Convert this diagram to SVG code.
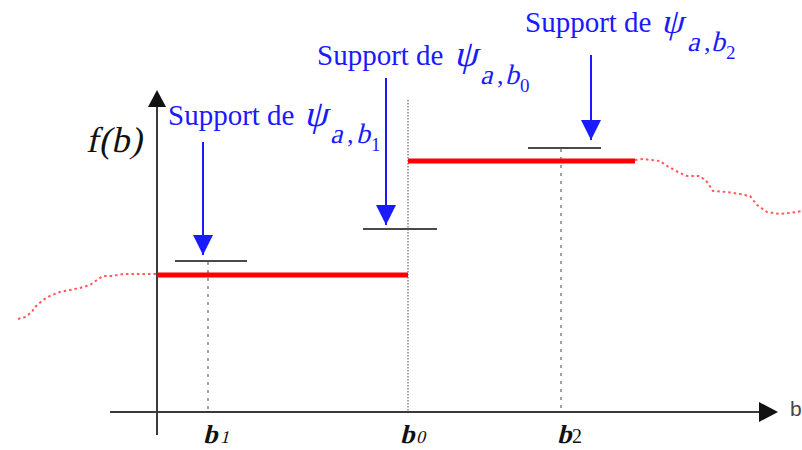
<svg xmlns="http://www.w3.org/2000/svg" width="802" height="450" viewBox="0 0 802 450">
<defs>
<style>
.axis{stroke:#3a3a3a;stroke-width:2;fill:none}
.guide{stroke:#666;stroke-width:1.2;fill:none}
.bar{stroke:#4a4a4a;stroke-width:2.2;fill:none}
.step{stroke:#ff0000;stroke-width:5;fill:none}
.curve{stroke:#ff3030;stroke-width:2;stroke-dasharray:2.5,3;fill:none;opacity:0.8}
.blue{stroke:#1a1aff;stroke-width:2;fill:none}
.lbl{font-family:"Liberation Serif",serif;fill:#1a1aff}
.math{font-family:"Liberation Serif",serif;fill:#111}
</style>
<marker id="ah" viewBox="0 0 10 10" refX="10" refY="5" markerWidth="20" markerHeight="20" markerUnits="userSpaceOnUse" orient="auto">
<path d="M0,0 L10,5 L0,10 Z" fill="#1a1aff"/>
</marker>
</defs>

<g id="axes">
<line class="axis" x1="157" y1="435" x2="157" y2="106"/>
<path d="M148,107 L157,90 L166,107 Z" fill="#111"/>
<line class="axis" x1="110" y1="412" x2="760" y2="412"/>
<path d="M759,402 L778,412 L759,422 Z" fill="#111"/>
<text x="790" y="416" font-family="Liberation Sans, sans-serif" font-size="21" fill="#444">b</text>
</g>

<g id="guides">
<line class="guide" x1="208" y1="262" x2="208" y2="411" stroke-dasharray="3,5"/>
<line class="guide" x1="408" y1="100" x2="408" y2="411" stroke-dasharray="1.5,1.5"/>
<line class="guide" x1="561" y1="149" x2="561" y2="411" stroke-dasharray="3,5"/>
</g>

<g id="signal">
<polyline class="curve" points="18,319 25,317 32,312 34,308 43,300 50,296 60,292 70,290 80,288 90,285 97,280 103,276 113,276 123,274 143,274 157,274"/>
<polyline class="curve" points="635,160 643,159 660,161 667,166 680,173 687,176 700,176 707,182 713,191 727,192 740,194 750,196 757,205 767,212 780,214 790,213 802,211"/>
<line class="step" x1="157" y1="275" x2="408" y2="275"/>
<line class="step" x1="408" y1="161" x2="635" y2="161"/>
</g>

<g id="supports">
<line class="bar" x1="175" y1="261" x2="247" y2="261"/>
<line class="bar" x1="363" y1="229" x2="437" y2="229"/>
<line class="bar" x1="528" y1="148" x2="601" y2="148"/>
</g>

<g id="connectors">
<line class="blue" x1="203" y1="142" x2="203" y2="255" marker-end="url(#ah)"/>
<line class="blue" x1="386" y1="78" x2="386" y2="225" marker-end="url(#ah)"/>
<line class="blue" x1="591" y1="55" x2="591" y2="140" marker-end="url(#ah)"/>
</g>

<g id="label-b1">
<text class="lbl" x="168" y="125" font-size="29">Support de</text>
<text class="lbl" transform="translate(304,126) skewX(-14)" font-size="37">ψ</text>
<text class="lbl" transform="translate(330,143) skewX(-14)" font-size="28">a</text>
<text class="lbl" x="347" y="143" font-size="26">,</text>
<text class="lbl" transform="translate(356,143) skewX(-14)" font-size="28">b</text>
<text class="lbl" x="371" y="151" font-size="19">1</text>
</g>

<g id="label-b0">
<text class="lbl" x="317" y="65" font-size="29">Support de</text>
<text class="lbl" transform="translate(454,66) skewX(-14)" font-size="37">ψ</text>
<text class="lbl" transform="translate(480,84) skewX(-14)" font-size="28">a</text>
<text class="lbl" x="497" y="84" font-size="26">,</text>
<text class="lbl" transform="translate(505,84) skewX(-14)" font-size="28">b</text>
<text class="lbl" x="520" y="92" font-size="19">0</text>
</g>

<g id="label-b2">
<text class="lbl" x="525" y="32" font-size="29">Support de</text>
<text class="lbl" transform="translate(661,33) skewX(-14)" font-size="35">ψ</text>
<text class="lbl" transform="translate(687,51) skewX(-14)" font-size="28">a</text>
<text class="lbl" x="704" y="51" font-size="26">,</text>
<text class="lbl" transform="translate(711,51) skewX(-14)" font-size="28">b</text>
<text class="lbl" x="726" y="59" font-size="19">2</text>
</g>

<g id="label-fb">
<text class="math" transform="translate(86,152) skewX(-12)" font-size="36" textLength="56" lengthAdjust="spacing">f(b)</text>
</g>

<g id="ticks">
<text class="math" transform="translate(203,443) skewX(-14)" font-size="26" font-weight="bold">b</text>
<text class="math" transform="translate(220,443) skewX(-14)" font-size="18">1</text>
<text class="math" transform="translate(400,443) skewX(-14)" font-size="26" font-weight="bold">b</text>
<text class="math" transform="translate(416,443) skewX(-14)" font-size="18">0</text>
<text class="math" transform="translate(557,443) skewX(-14)" font-size="26" font-weight="bold">b</text>
<text class="math" x="572" y="443" font-size="20">2</text>
</g>
</svg>
